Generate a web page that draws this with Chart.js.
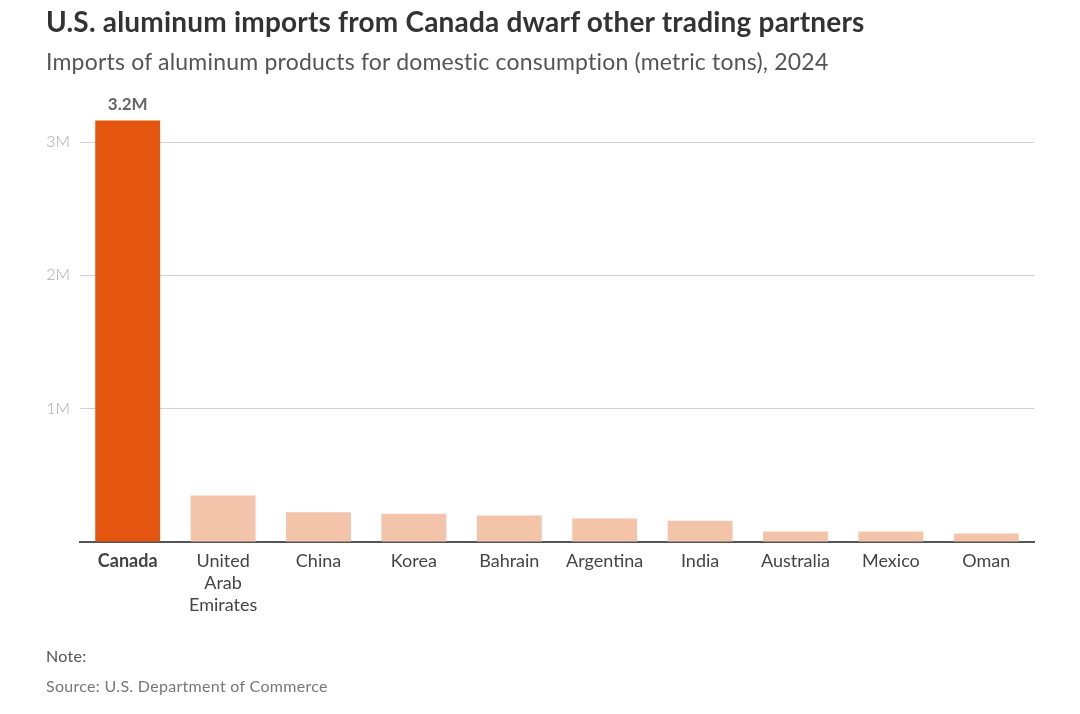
<!DOCTYPE html>
<html><head><meta charset="utf-8">
<script src="https://cdn.jsdelivr.net/npm/chart.js@4.4.1/dist/chart.umd.min.js"></script>
<style>
html,body{margin:0;padding:0;background:#fff;}
#wrap{position:relative;width:1080px;height:714px;overflow:hidden;font-family:Lato,"Open Sans",sans-serif;}
#c{position:absolute;left:0;top:0;}
.t{position:absolute;white-space:nowrap;}
#title{left:46px;top:4px;font-size:28px;letter-spacing:0.2px;font-weight:700;color:#333;}
#sub{left:46px;top:47px;font-size:23px;letter-spacing:0.2px;font-weight:400;color:#555;}
#note{left:46px;top:646px;font-size:16px;letter-spacing:0.3px;color:#555;}
#src{left:46px;top:676px;font-size:16px;letter-spacing:0.3px;color:#777;}
</style></head>
<body><div id="wrap">
<canvas id="c" width="1080" height="714"></canvas>
<div class="t" id="title">U.S. aluminum imports from Canada dwarf other trading partners</div>
<div class="t" id="sub">Imports of aluminum products for domestic consumption (metric tons), 2024</div>
<div class="t" id="note">Note:</div>
<div class="t" id="src">Source: U.S. Department of Commerce</div>
</div>
<script>
const categories = [["Canada"], ["United","Arab","Emirates"], ["China"], ["Korea"], ["Bahrain"], ["Argentina"], ["India"], ["Australia"], ["Mexico"], ["Oman"]];
const imports = [3162000, 349000, 224000, 212000, 199000, 176000, 159000, 79000, 79000, 64000];
const barColors = ["#e4550f", "#f4c4aa", "#f4c4aa", "#f4c4aa", "#f4c4aa", "#f4c4aa", "#f4c4aa", "#f4c4aa", "#f4c4aa", "#f4c4aa"];
const yTicks = [0, 1000000, 2000000, 3000000];
const yTickLabels = ["", "1M", "2M", "3M"];
const highlightLabel = "3.2M";

const labelPlugin = {
  id: 'valLabel',
  afterDatasetsDraw(chart) {
    const meta = chart.getDatasetMeta(0);
    const el = meta.data[0];
    const ctx = chart.ctx;
    ctx.save();
    ctx.font = '700 17px Lato, sans-serif';
    ctx.fillStyle = '#666';
    ctx.textAlign = 'center';
    ctx.textBaseline = 'bottom';
    ctx.fillText(highlightLabel, el.x, el.y - 7);
    ctx.restore();
  }
};

new Chart(document.getElementById('c'), {
  type: 'bar',
  data: {
    labels: categories,
    datasets: [{ data: imports, backgroundColor: barColors, barPercentage: 0.68, categoryPercentage: 1.0, borderWidth: 0 }]
  },
  options: {
    responsive: false,
    animation: false,
    layout: { padding: { top: 102, right: 46, bottom: 0, left: 0 } },
    plugins: { legend: { display: false }, tooltip: { enabled: false } },
    scales: {
      x: {
        grid: { display: false, drawTicks: false },
        border: { display: true, color: '#555', width: 2 },
        ticks: {
          color: '#444',
          padding: 8,
          autoSkip: false,
          maxRotation: 0,
          font: (ctx) => ({ family: 'Lato, sans-serif', size: 18, weight: ctx.index === 0 ? '700' : '400', lineHeight: 1.22 })
        },
        afterFit: (s) => { s.height = 172; }
      },
      y: {
        min: 0, max: 3300000,
        afterBuildTicks: (s) => { s.ticks = yTicks.map(v => ({ value: v })); },
        afterFit: (s) => { s.width = 80; },
        border: { display: false },
        grid: { drawTicks: false, color: (ctx) => ctx.tick && ctx.tick.value === 0 ? 'rgba(0,0,0,0)' : '#d0d0d0', lineWidth: 1 },
        ticks: {
          color: '#aaa', padding: 10,
          font: { family: 'Lato, sans-serif', size: 16, weight: '300' },
          callback: (v) => { const i = yTicks.indexOf(v); return i >= 0 ? yTickLabels[i] : ''; }
        }
      }
    }
  },
  plugins: [labelPlugin]
});
</script>
</body></html>
